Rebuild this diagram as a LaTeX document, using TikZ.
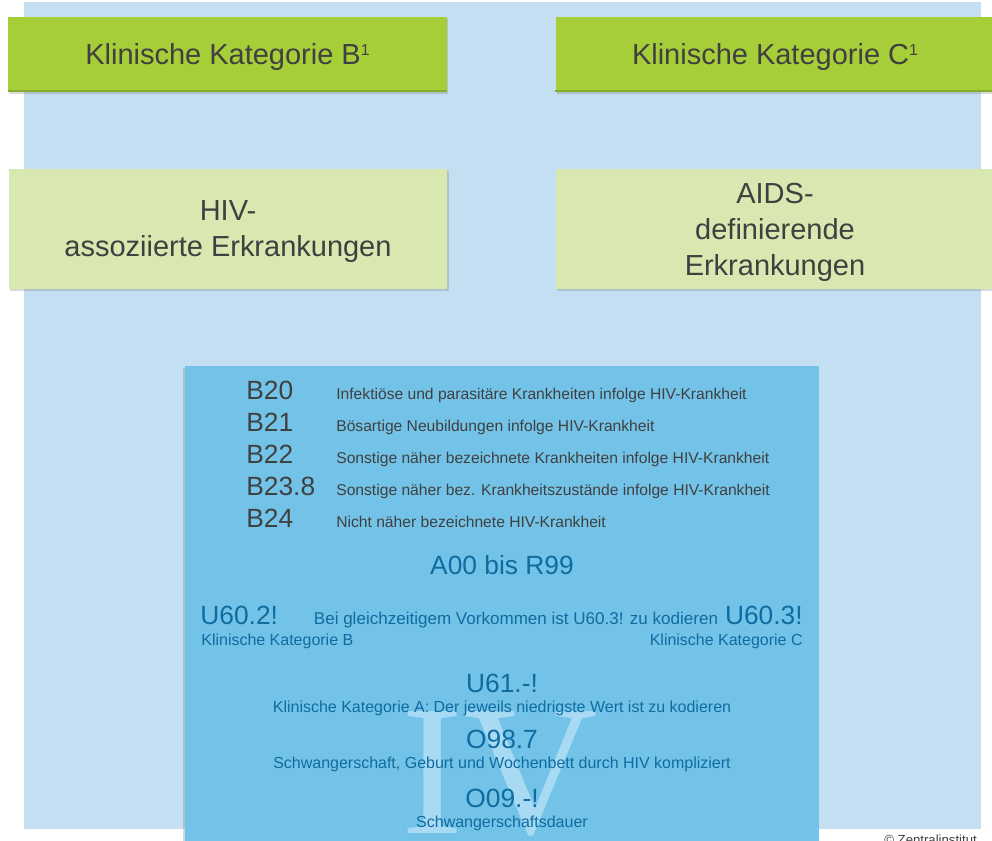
\documentclass[tikz,border=0pt]{standalone}
\usepackage{fontspec}
\setmainfont{Liberation Sans}
\newfontfamily\watermarkfont{Liberation Serif}
\usetikzlibrary{shadows}

\definecolor{bgblue}{HTML}{C3DFF1}
\definecolor{katgreen}{HTML}{A6CE39}
\definecolor{katgreendark}{HTML}{88AC2C}
\definecolor{palegreen}{HTML}{D9E7B0}
\definecolor{boxblue}{HTML}{73C3E9}
\definecolor{codeblue}{HTML}{0F6C9E}
\definecolor{wmblue}{HTML}{A8DAF4}
\definecolor{txtgray}{HTML}{404040}

\newcommand{\fnmark}[1]{\smash{\raisebox{0.33em}{\fontsize{9}{9}\selectfont #1}}}

\begin{document}
\begin{tikzpicture}[x=0.02cm, y=-0.02cm]

    \tikzset{kat/.style={%
      fill=katgreen,%
      drop shadow={opacity=0.3, shadow xshift=0.6pt, shadow yshift=-1pt},%
      minimum width=8.78cm,%
      minimum height=1.5cm,%
      inner sep=0pt,%
      text depth=0pt,%
      text=txtgray,%
      font=\fontsize{16.5}{20}\selectfont}%
    };

    \tikzset{grp/.style={kat, fill=palegreen, minimum height=2.4cm, align=center, font=\fontsize{16.5}{20.5}\selectfont}};
    \tikzset{code/.style={anchor=base west, inner sep=0pt, text=txtgray, font=\fontsize{15}{18}\selectfont}};
    \tikzset{desc/.style={code, font=\fontsize{8.9}{10}\selectfont}};
    \tikzset{icd/.style={anchor=base, inner sep=0pt, text=codeblue, font=\fontsize{15}{18}\selectfont}};
    \tikzset{note/.style={icd, font=\fontsize{9.1}{10}\selectfont}};

    \clip (0,0) rectangle (992,841);
    \fill[bgblue] (24,2) rectangle (981,829);

    %%%%%%%%%%%%%%%
    %  kategorien %
    %%%%%%%%%%%%%%%
    \node[kat] (katb) at (227.5,54.5) {Klinische Kategorie B\fnmark{1}};
    \node[kat] (katc) at (775,54.5) {Klinische Kategorie C\fnmark{1}};
    \draw[katgreendark, line width=1.5pt] ([yshift=0.75pt]katb.south west) -- ([yshift=0.75pt]katb.south east);
    \draw[katgreendark, line width=1.5pt] ([yshift=0.75pt]katc.south west) -- ([yshift=0.75pt]katc.south east);

    \node[grp] (hiv) at (228,229) {HIV-\\assoziierte Erkrankungen};
    \node[grp] (aids) at (775,229) {AIDS-\\definierende\\Erkrankungen};

    %%%%%%%%%%%%%%%
    %  icd codes  %
    %%%%%%%%%%%%%%%
    \node[fill=boxblue, drop shadow={opacity=0.3, shadow xshift=-1pt, shadow yshift=-1pt},
      minimum width=12.68cm, minimum height=9.8cm, inner sep=0pt, anchor=north] (icdbox) at (502,366) {};
    \node[anchor=base, inner sep=0pt, text=wmblue, font=\watermarkfont\fontsize{106}{106}\selectfont] (wm) at (500,833) {IV};

    \node[code] (b20) at (246,400) {B20};
    \node[desc] (b20t) at (336,400) {Infektiöse und parasitäre Krankheiten infolge HIV-Krankheit};
    \node[code] (b21) at (246,432) {B21};
    \node[desc] (b21t) at (336,432) {Bösartige Neubildungen infolge HIV-Krankheit};
    \node[code] (b22) at (246,464) {B22};
    \node[desc] (b22t) at (336,464) {Sonstige näher bezeichnete Krankheiten infolge HIV-Krankheit};
    \node[code] (b238) at (246,496) {B23.8};
    \node[desc] (b238t) at (336,496) {Sonstige näher bez. Krankheitszustände infolge HIV-Krankheit};
    \node[code] (b24) at (246,528) {B24};
    \node[desc] (b24t) at (336,528) {Nicht näher bezeichnete HIV-Krankheit};

    \node[icd] (a00) at (502,575) {A00 bis R99};

    \node[icd, anchor=base west] (u602) at (200,624) {U60.2!};
    \node[note, anchor=base west] (u602t) at (201,645) {Klinische Kategorie B};
    \node[note, font=\fontsize{9.7}{11}\selectfont] (u60hint) at (516,624) {Bei gleichzeitigem Vorkommen ist U60.3! zu kodieren};
    \node[icd, anchor=base east] (u603) at (803,624) {U60.3!};
    \node[note, anchor=base east] (u603t) at (803,645) {Klinische Kategorie C};

    \node[icd] (u61) at (502,693) {U61.-!};
    \node[note] (u61t) at (502,713) {Klinische Kategorie A: Der jeweils niedrigste Wert ist zu kodieren};
    \node[icd] (o987) at (502,748) {O98.7};
    \node[note] (o987t) at (502,768) {Schwangerschaft, Geburt und Wochenbett durch HIV kompliziert};
    \node[icd] (o09) at (502,807) {O09.-!};
    \node[note] (o09t) at (502,827) {Schwangerschaftsdauer};

    \node[anchor=north west, inner sep=0pt, text=txtgray, font=\fontsize{7.5}{9}\selectfont] (copyr) at (884,835) {© Zentralinstitut};

  \end{tikzpicture}
\end{document}
